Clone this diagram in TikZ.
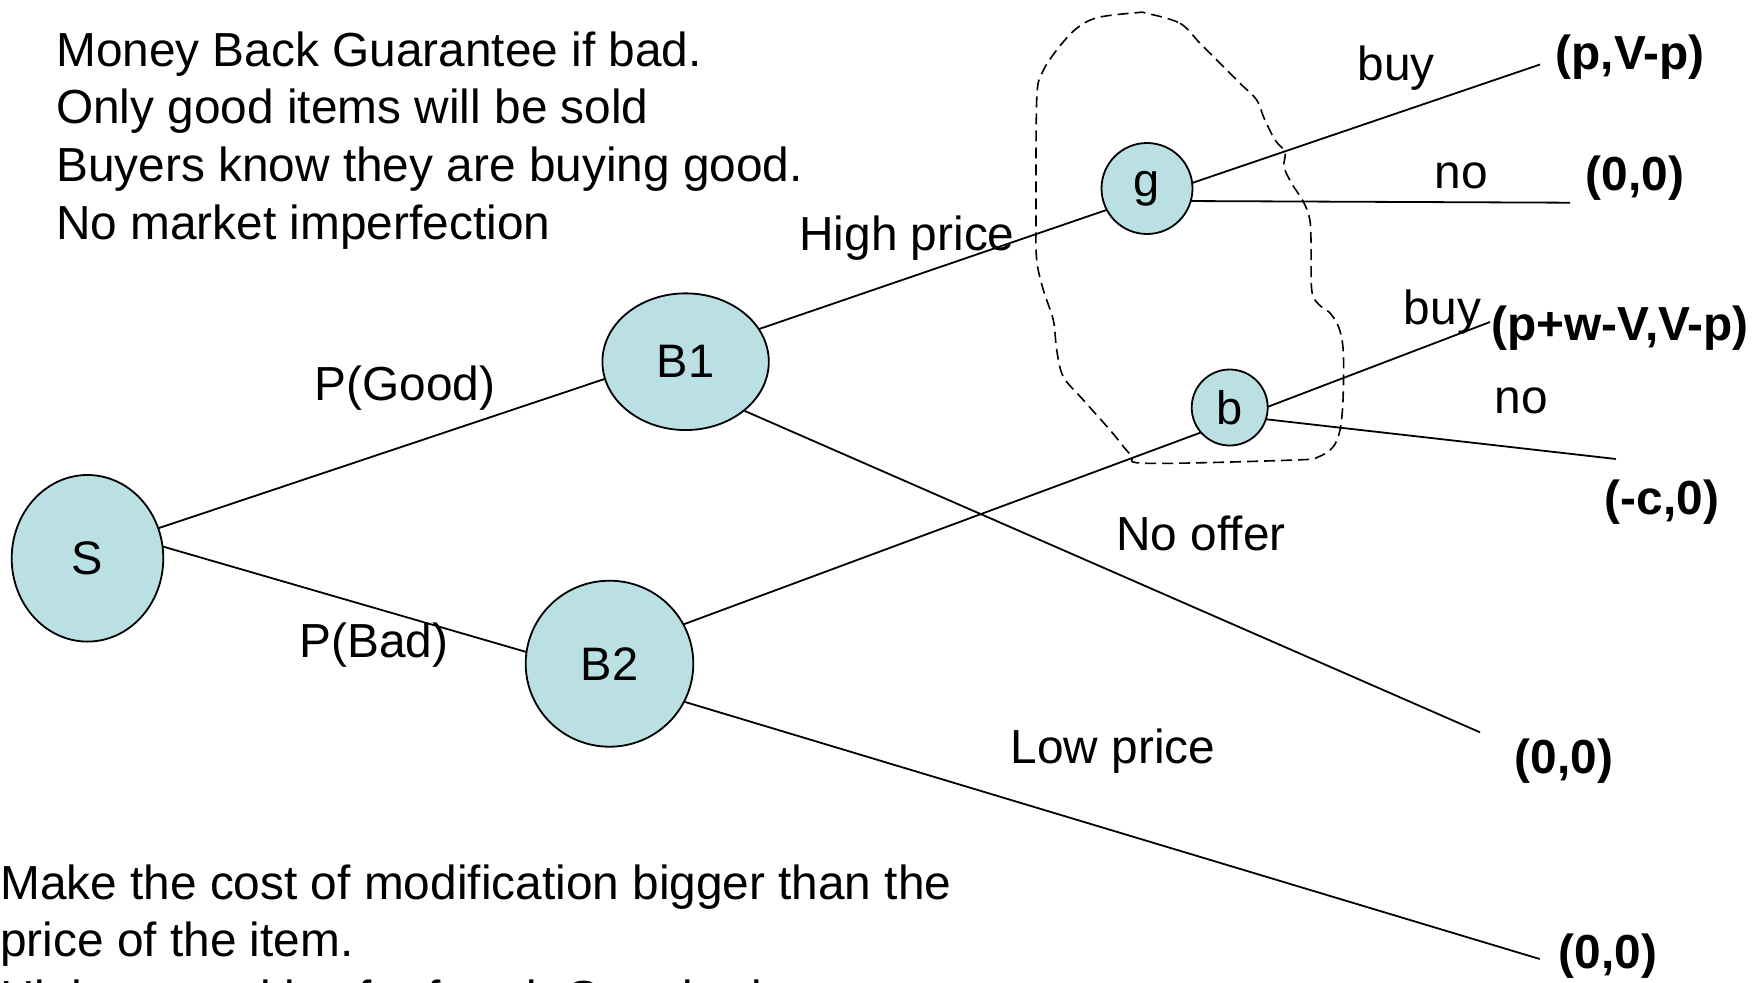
\documentclass[tikz,border=0pt]{standalone}
\usepackage{fontspec}
\setmainfont{Liberation Sans}
\usetikzlibrary{shapes.geometric}
\definecolor{nodefill}{RGB}{187,224,227}
\begin{document}
\begin{tikzpicture}[x=1pt,y=-1pt,
  state/.style={ellipse, draw=black, line width=1.8pt, fill=nodefill,
    inner sep=0pt, outer sep=0pt, font=\fontsize{47}{47}\selectfont},
  edge/.style={line width=1.8pt},
  lbl/.style={anchor=base, inner sep=0pt, font=\fontsize{47.8}{57.6}\selectfont},
  pay/.style={anchor=base, inner sep=0pt, font=\fontsize{47.8}{57.6}\selectfont\bfseries},
  note/.style={anchor=base west, inner sep=0pt, font=\fontsize{47.8}{57.6}\selectfont},
  infoset/.style={dash pattern=on 11pt off 6pt, line width=1.6pt}
]
\useasboundingbox (0,0) rectangle (1760,982);
\clip (0,0) rectangle (1760,982);

% assumptions
\node[note] (n1) at (56,66.7)  {Money Back Guarantee if bad.};
\node[note] (n2) at (56,123.5) {Only good items will be sold};
\node[note] (n3) at (56,181.5) {Buyers know they are buying good.};
\node[note] (n4) at (56,239.5) {No market imperfection};

% remedy
\node[note] (m1) at (0,899.5) {Make the cost of modification bigger than the};
\node[note] (m2) at (0,956.5) {price of the item.};
\node[note] (m3) at (0,1014)  {Higher penalties for fraud. Standards};

% decision nodes
\node[state, minimum width=151.6pt, minimum height=166.6pt] (S)  at (87.5,558.3) {S};
\node[state, minimum width=166.4pt, minimum height=136.7pt] (B1) at (685.6,361.7) {B1};
\node[state, minimum width=167.6pt, minimum height=166pt]   (B2) at (609.5,663.7) {B2};
\node[state, minimum width=91pt,  minimum height=91pt]      (g)  at (1147,188.5)  {g};
\node[state, minimum width=76pt,  minimum height=76pt]      (b)  at (1229.7,407.5) {b};

% free ends of the terminal branches
\coordinate (gbuy) at (1540,64.5);
\coordinate (gno)  at (1570,202.7);
\coordinate (bbuy) at (1490,322);
\coordinate (bno)  at (1616,459);
\coordinate (b1no) at (1480,732.3);
\coordinate (b2lo) at (1539.7,959);

% branches
\draw[edge] (S.23.6) -- (B1.192);
\draw[edge] (S.9.5)  -- (B2.172.8);
\draw[edge] (B1.24.9) -- (g.208.4);
\draw[edge] (B1.-40.4) -- (b1no);
\draw[edge] (B2.28) -- (b.221);
\draw[edge] (B2.-27) -- (b2lo);
\draw[edge] (g.7.3) -- (gbuy);
\draw[edge] (g.-16.5) -- (gno);
\draw[edge] (b.1) -- (bbuy);
\draw[edge] (b.-18.2) -- (bno);

% information set of the buyer
\draw[infoset] plot[smooth cycle, tension=0.55] coordinates {
  (1146.7,13.3) (1180,23.3) (1200,43.3) (1220,63.3) (1240,83.3)
  (1256.7,100) (1264,118) (1275,140) (1285,152) (1284,167)
  (1292,184) (1303,201) (1309.5,218) (1311,240) (1311.7,290)
  (1318.3,304) (1330,313) (1339,328) (1343.3,352) (1343,400)
  (1340,430) (1333,447) (1318,457) (1295,460) (1146.7,463.3)
  (1131,455) (1110,430) (1083.3,400) (1063.3,376.7) (1056.7,350)
  (1053.3,320) (1043.3,290) (1036.7,260) (1036,216.7) (1036.7,100)
  (1042,73.3) (1056.7,50) (1076.7,28.3) (1098,17.5) (1136.7,12.7)};

% branch labels
\node[lbl] (lgood) at (405,400)    {P(Good)};
\node[lbl] (lbad)  at (374,657)    {P(Bad)};
\node[lbl] (lhigh) at (907,250)    {High price};
\node[lbl] (lnoof) at (1201,550)   {No offer};
\node[lbl] (llow)  at (1113,763)   {Low price};
\node[lbl] (lgb)   at (1396,81)    {buy};
\node[lbl] (lgn)   at (1461,188)   {no};
\node[lbl] (lbb)   at (1442.5,324) {buy};
\node[lbl] (lbn)   at (1521,413)   {no};

% payoffs
\node[pay] (p1) at (1630,70)   {(p,V-p)};
\node[pay] (p2) at (1635,190)  {(0,0)};
\node[pay] (p3) at (1620,340)  {(p+w-V,V-p)};
\node[pay] (p4) at (1662,514)  {(-c,0)};
\node[pay] (p5) at (1564,773)  {(0,0)};
\node[pay] (p6) at (1608,968)  {(0,0)};
\end{tikzpicture}
\end{document}
